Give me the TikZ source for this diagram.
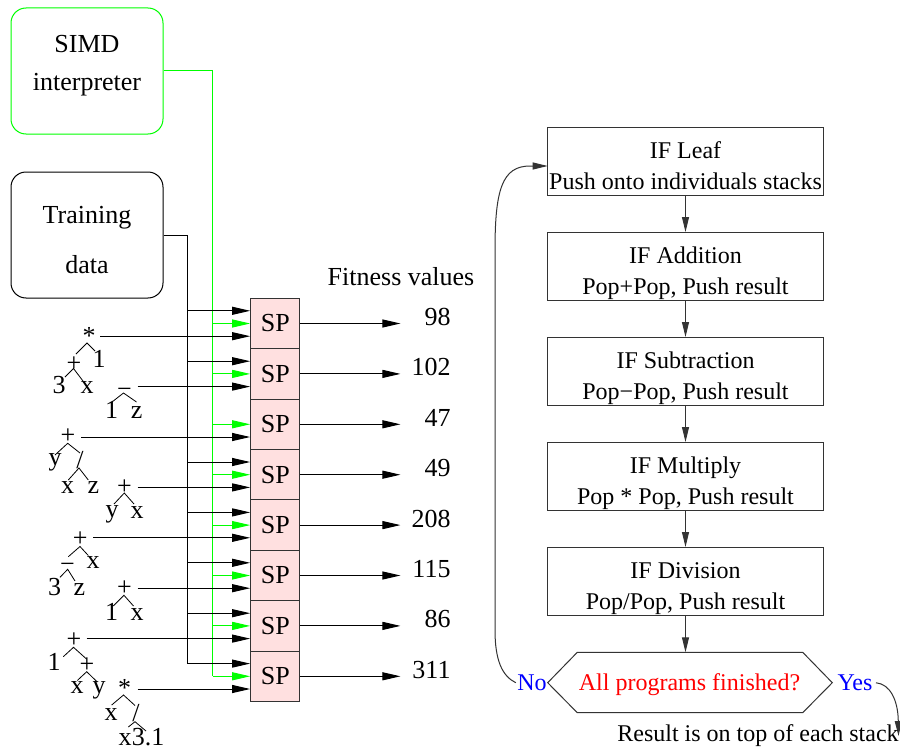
\documentclass[tikz,border=0pt]{standalone}
\usepackage{fontspec}
\setmainfont{Liberation Serif}
\usetikzlibrary{arrows.meta,calc}
\definecolor{spfill}{RGB}{255,224,224}
\definecolor{fgreen}{RGB}{0,255,0}
\begin{document}
\begin{tikzpicture}[x=1pt,y=-1pt,line width=1pt,
  lbl/.style={inner sep=0pt,anchor=base,font=\fontsize{26}{30}\selectfont},
  flbl/.style={inner sep=0pt,anchor=base,font=\fontsize{24}{28}\selectfont},
  spbox/.style={draw=black!80,fill=spfill,minimum width=49.3pt,minimum height=50.4pt,inner sep=0pt,font=\fontsize{26}{30}\selectfont},
  fbox/.style={draw=black!80,minimum width=275.6pt,minimum height=68pt,inner sep=0pt},
  srcbox/.style={rounded corners=15pt,minimum width=152pt,minimum height=126pt,inner sep=0pt},
  inarr/.style={-{Triangle[length=18pt,width=8pt]}},
  farr/.style={draw=black!80,-{Triangle[length=15pt,width=7pt]}},
  tl/.style={line width=0.8pt}
]
\useasboundingbox (0,0) rectangle (900,752);

% source boxes
\node[srcbox,draw=fgreen] (simd) at (87,71) {};
\node[lbl] (simdA) at (87,53) {SIMD};
\node[lbl] (simdB) at (87,91) {interpreter};
\node[srcbox,draw=black] (train) at (87,235) {};
\node[lbl] (trainA) at (87,223) {Training};
\node[lbl] (trainB) at (87,273) {data};

% SP boxes
\foreach \i in {1,...,8} {
  \node[spbox] (sp\i) at (275.3,{323.5+50.4*(\i-1)}) {SP};
  \coordinate (bt\i) at ($(sp\i.west)+(0,-12.7)$);
  \coordinate (o\i) at ($(sp\i.east)+(100,0)$);
}

% green interpreter lines
\coordinate (gtop) at (212.7,71);
\draw[fgreen] (simd.east) -- (gtop) -- (gtop |- sp8.west);
\foreach \i in {1,...,8} \draw[fgreen,inarr] (gtop |- sp\i.west) -- (sp\i.west);

% black training data lines
\coordinate (btop) at (187.3,235);
\draw (train.east) -- (btop) -- (btop |- bt8);
\foreach \i in {1,2,4,5,6,7,8} \draw[inarr] (btop |- bt\i) -- (bt\i);

% tree arrows
\coordinate (ts1) at (100,336.2);
\coordinate (ts2) at (137.7,386.6);
\coordinate (ts3) at (81,437.0);
\coordinate (ts4) at (137.7,487.4);
\coordinate (ts5) at (93.3,537.8);
\coordinate (ts6) at (137.7,588.2);
\coordinate (ts7) at (86.7,638.6);
\coordinate (ts8) at (137.7,689.0);
\foreach \i in {1,...,8} \draw[inarr] (ts\i) -- (ts\i -| sp\i.west);

% outputs
\foreach \i in {1,...,8} \draw[inarr] (sp\i.east) -- (o\i);
\node[lbl] (fit) at (401,285) {Fitness values};
\node[lbl,anchor=base east] (v1) at (451,325.5) {98};
\node[lbl,anchor=base east] (v2) at (451,375.9) {102};
\node[lbl,anchor=base east] (v3) at (451,426.3) {47};
\node[lbl,anchor=base east] (v4) at (451,476.7) {49};
\node[lbl,anchor=base east] (v5) at (451,527.1) {208};
\node[lbl,anchor=base east] (v6) at (451,577.5) {115};
\node[lbl,anchor=base east] (v7) at (451,627.9) {86};
\node[lbl,anchor=base east] (v8) at (451,678.3) {311};

% tree 1
\node[lbl] (ta) at (89,344) {*};
\node[lbl] (taP) at (74,371.5) {+};
\node[lbl] (taO) at (99,367) {1};
\node[lbl] (taT) at (59,393) {3};
\node[lbl] (taX) at (87,393) {x};
\draw[tl] (76,354) -- (87,343) -- (95,351);
\draw[tl] (65,377) -- (73.5,368.5) -- (83,381);
% tree 2
\node[lbl] (tb) at (124.5,397) {−};
\draw[tl] (112,402) -- (123.5,393) -- (136.5,402);
\node[lbl] (tbO) at (111.7,418) {1};
\node[lbl] (tbZ) at (136.7,418) {z};
% tree 3
\node[lbl] (tc) at (68,443.5) {+};
\draw[tl] (55,455) -- (67.7,443.3) -- (80,453);
\node[lbl] (tcY) at (55,465) {y};
\node[lbl] (tcS) at (80,468) {/};
\draw[tl] (68.3,480) -- (79,468) -- (88.3,480);
\node[lbl] (tcX) at (67.5,493) {x};
\node[lbl] (tcZ) at (93.3,493) {z};
% tree 4
\node[lbl] (td) at (124.5,494.5) {+};
\draw[tl] (114,504) -- (124.3,493) -- (134,504);
\node[lbl] (tdY) at (112,517) {y};
\node[lbl] (tdX) at (137,518) {x};
% tree 5
\node[lbl] (te) at (80.3,546.5) {+};
\draw[tl] (68.3,556.7) -- (80,546.5) -- (88.3,555.5);
\node[lbl] (teM) at (67.5,572) {−};
\node[lbl] (teX) at (93,568) {x};
\draw[tl] (60,577.3) -- (67.7,569.3) -- (75,581);
\node[lbl] (teT) at (54.7,595) {3};
\node[lbl] (teZ) at (79.5,595) {z};
% tree 6
\node[lbl] (tf) at (124.5,595.5) {+};
\draw[tl] (113.3,606) -- (124,595.3) -- (133.5,606);
\node[lbl] (tfO) at (111.7,620) {1};
\node[lbl] (tfX) at (137,620) {x};
% tree 7
\node[lbl] (tg) at (74,647.5) {+};
\draw[tl] (63.3,656.7) -- (73.5,647.3) -- (86.5,659);
\node[lbl] (tgO) at (54,670) {1};
\node[lbl] (tgP) at (87,672.5) {+};
\draw[tl] (77.3,680.5) -- (86.7,671.7) -- (97.3,682);
\node[lbl] (tgX) at (77,693) {x};
\node[lbl] (tgY) at (99,693) {y};
% tree 8
\node[lbl] (th) at (124.5,696) {*};
\draw[tl] (111.7,705) -- (123.5,695) -- (135,705.5);
\node[lbl] (thX) at (111,720) {x};
\node[lbl] (thS) at (136,721) {/};
\draw[tl] (128.3,727) -- (135,721.7) -- (146,731);
\node[lbl] (thX2) at (125,745) {x};
\node[lbl] (thN) at (148,745) {3.1};

% flowchart
\node[fbox] (f1) at (685.5,161.5) {};
\node[fbox] (f2) at (685.5,266.5) {};
\node[fbox] (f3) at (685.5,371.5) {};
\node[fbox] (f4) at (685.5,476.5) {};
\node[fbox] (f5) at (685.5,581.5) {};
\node[flbl] (f1a) at (685.5,158.5) {IF Leaf};
\node[flbl] (f1b) at (685.5,189.5) {Push onto individuals stacks};
\node[flbl] (f2a) at (685.5,263.5) {IF Addition};
\node[flbl] (f2b) at (685.5,294.5) {Pop+Pop, Push result};
\node[flbl] (f3a) at (685.5,368.5) {IF Subtraction};
\node[flbl] (f3b) at (685.5,399.5) {Pop−Pop, Push result};
\node[flbl] (f4a) at (685.5,473.5) {IF Multiply};
\node[flbl] (f4b) at (685.5,504.5) {Pop * Pop, Push result};
\node[flbl] (f5a) at (685.5,578.5) {IF Division};
\node[flbl] (f5b) at (685.5,609.5) {Pop/Pop, Push result};
\draw[farr] (f1.south) -- (f2.north);
\draw[farr] (f2.south) -- (f3.north);
\draw[farr] (f3.south) -- (f4.north);
\draw[farr] (f4.south) -- (f5.north);

\coordinate (hT) at (685.5,652.3);
\draw[black!80] (547.7,682.7) -- (577.3,652.3) -- (802.7,652.3) -- (832.3,682.7) -- (802.7,712.7) -- (577.3,712.7) -- cycle;
\draw[farr] (f5.south) -- (hT);
\node[flbl,text=red] (dec) at (689.5,690.5) {All programs finished?};
\node[flbl,text=blue] (no) at (532,690.5) {No};
\node[flbl,text=blue] (yes) at (855,690.5) {Yes};
\coordinate (f1in) at (547.7,166);
\draw[farr] ([xshift=-1pt]no.west) .. controls (502,676) and (495,660) .. (495,630) -- (495,250) .. controls (495,190) and (502,166) .. (530,166) -- (f1in);
\draw[farr] ([xshift=3pt]yes.east) .. controls (890,684) and (898,700) .. (898.5,736);
\node[flbl] (res) at (758,741) {Result is on top of each stack};
\end{tikzpicture}
\end{document}
